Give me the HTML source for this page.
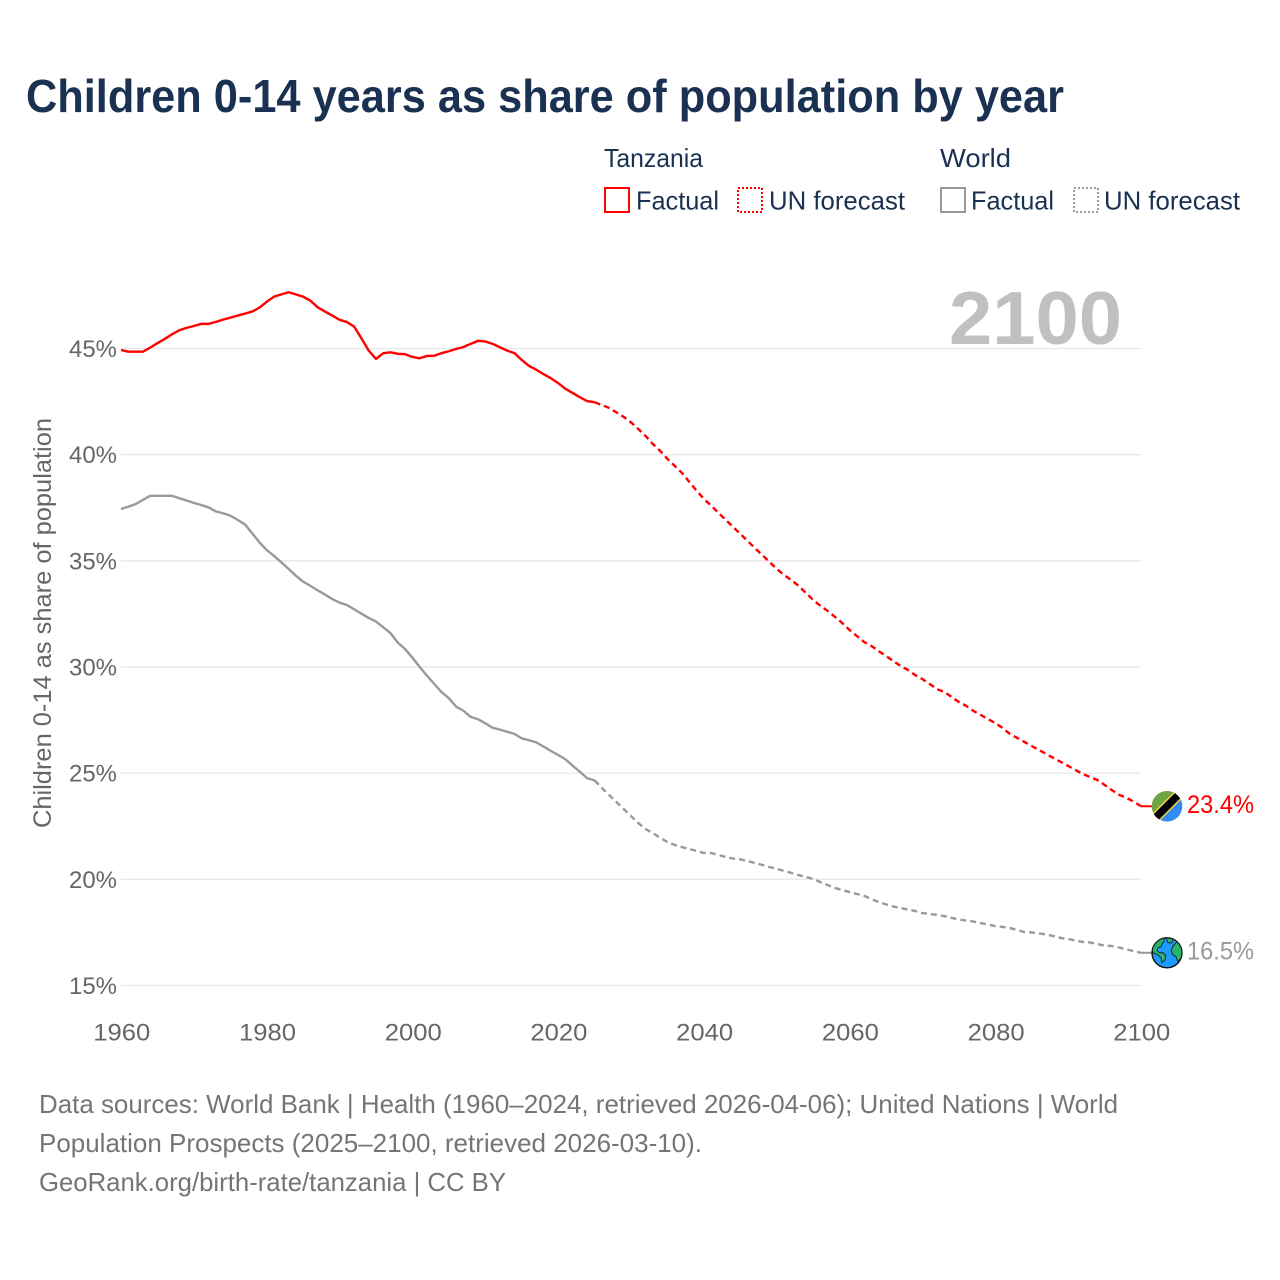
<!DOCTYPE html>
<html lang="en">
<head>
<meta charset="utf-8">
<title>Children 0-14 years as share of population by year</title>
<style>
  html, body { margin: 0; padding: 0; background: #fff; }
  svg { display: block; font-family: "Liberation Sans", sans-serif; }
</style>
</head>
<body>
<svg id="chart" xmlns="http://www.w3.org/2000/svg" width="1280" height="1280" viewBox="0 0 1280 1280">
  <rect x="0" y="0" width="1280" height="1280" fill="#fff"/>
  <text x="26" y="112" font-size="46" font-weight="700" fill="#1a3152" textLength="1038" lengthAdjust="spacingAndGlyphs">Children 0-14 years as share of population by year</text>

  <g font-size="26" fill="#1a3152">
    <text x="604" y="167" textLength="99" lengthAdjust="spacingAndGlyphs">Tanzania</text>
    <text x="940" y="167" textLength="71" lengthAdjust="spacingAndGlyphs">World</text>
    <rect x="605" y="188" width="24" height="24" fill="none" stroke="#ff0000" stroke-width="2"/>
    <text x="636" y="209.5" textLength="83" lengthAdjust="spacingAndGlyphs">Factual</text>
    <rect x="738" y="188" width="24" height="24" fill="none" stroke="#ff0000" stroke-width="2" stroke-dasharray="2 2"/>
    <text x="769" y="209.5" textLength="136" lengthAdjust="spacingAndGlyphs">UN forecast</text>
    <rect x="941" y="188" width="24" height="24" fill="none" stroke="#999999" stroke-width="2"/>
    <text x="971" y="209.5" textLength="83" lengthAdjust="spacingAndGlyphs">Factual</text>
    <rect x="1074" y="188" width="24" height="24" fill="none" stroke="#999999" stroke-width="2" stroke-dasharray="2 2"/>
    <text x="1104" y="209.5" textLength="136" lengthAdjust="spacingAndGlyphs">UN forecast</text>
  </g>

  <g id="grid"></g>
  <text x="949" y="344" font-size="75" font-weight="700" fill="#c0c0c0" textLength="173" lengthAdjust="spacingAndGlyphs">2100</text>
  <g id="yticks" font-size="24" fill="#666666"></g>
  <g id="xticks" font-size="24" fill="#666666"></g>
  <text transform="translate(51 828) rotate(-90)" font-size="25" fill="#666666" textLength="410" lengthAdjust="spacingAndGlyphs">Children 0-14 as share of population</text>

  <g id="series"></g>

  <g id="flag-tanzania">
    <clipPath id="flag-clip"><circle cx="0" cy="0" r="15.3"/></clipPath>
    <g clip-path="url(#flag-clip)" transform="rotate(-45)">
      <rect x="-20" y="-20" width="40" height="20" fill="#6da544"/>
      <rect x="-20" y="0" width="40" height="20" fill="#338af3"/>
      <rect x="-20" y="-5.2" width="40" height="10.4" fill="#ffda44"/>
      <rect x="-20" y="-3.8" width="40" height="7.6" fill="#000"/>
    </g>
  </g>
  <g id="flag-world">
    <circle cx="0" cy="0" r="15" fill="#1e9bff" stroke="#111" stroke-width="1.4"/>
    <clipPath id="globe-clip"><circle cx="0" cy="0" r="14.5"/></clipPath>
    <g clip-path="url(#globe-clip)" fill="#27b36c" stroke="#111" stroke-width="0.8">
      <path d="M-15 -5 C-12 -11 -8 -14 -3 -15 L-3 -11 L-5 -9 L-6 -6 L-9 -5 L-10 -2 L-7 0 L-4 0 L-1 3 L-2 7 L-5 10 L-6 5 L-9 2 L-14 0 Z"/>
      <path d="M-1 -15 L6 -14 L5 -10 L1 -10 Z"/>
      <path d="M6 -7 L10 -11 L15 -5 L15 4 L11 9 L9 4 L6 2 L4 -2 Z"/>
    </g>
  </g>
  <g id="endlabels" font-size="25"></g>

  <g font-size="26" fill="#757575">
    <text x="39" y="1113" textLength="1079" lengthAdjust="spacingAndGlyphs">Data sources: World Bank | Health (1960–2024, retrieved 2026-04-06); United Nations | World</text>
    <text x="39" y="1152" textLength="663" lengthAdjust="spacingAndGlyphs">Population Prospects (2025–2100, retrieved 2026-03-10).</text>
    <text x="39" y="1191" textLength="467" lengthAdjust="spacingAndGlyphs">GeoRank.org/birth-rate/tanzania | CC BY</text>
  </g>
</svg>

<script>
// ---- data ----
const factualStartYear = 1960;
const forecastStartYear = 2025;
const tanzaniaFactual = [44.93,44.85,44.85,44.85,45.04,45.25,45.45,45.67,45.86,45.97,46.06,46.16,46.16,46.25,46.36,46.45,46.55,46.64,46.74,46.92,47.2,47.44,47.55,47.65,47.55,47.44,47.25,46.94,46.74,46.55,46.35,46.25,46.03,45.48,44.9,44.51,44.78,44.82,44.75,44.73,44.6,44.54,44.65,44.66,44.78,44.87,44.98,45.07,45.22,45.36,45.33,45.22,45.06,44.9,44.78,44.46,44.18,44,43.79,43.6,43.37,43.1,42.9,42.7,42.52,42.47];
const tanzaniaForecast = [42.47,42.34,42.2,41.99,41.78,41.52,41.21,40.88,40.5,40.18,39.8,39.47,39.14,38.72,38.3,37.92,37.6,37.26,36.93,36.6,36.27,35.94,35.6,35.28,34.95,34.62,34.33,34.1,33.82,33.49,33.16,32.88,32.64,32.36,32.07,31.74,31.46,31.18,30.99,30.75,30.52,30.28,30.05,29.86,29.62,29.43,29.2,28.96,28.83,28.59,28.35,28.17,27.93,27.74,27.55,27.36,27.13,26.85,26.66,26.47,26.28,26.09,25.9,25.71,25.53,25.34,25.15,24.96,24.82,24.68,24.45,24.2,23.98,23.84,23.66,23.44];
const worldFactual = [37.44,37.55,37.67,37.87,38.06,38.06,38.06,38.06,37.95,37.84,37.73,37.63,37.52,37.33,37.24,37.13,36.93,36.72,36.3,35.87,35.51,35.23,34.93,34.62,34.3,34.02,33.82,33.61,33.41,33.2,33.03,32.92,32.72,32.51,32.31,32.14,31.87,31.59,31.15,30.84,30.44,30,29.59,29.2,28.82,28.53,28.13,27.94,27.65,27.54,27.35,27.14,27.05,26.95,26.85,26.64,26.55,26.45,26.25,26.05,25.86,25.65,25.35,25.06,24.76,24.66];
const worldForecast = [24.66,24.3,23.97,23.64,23.31,22.98,22.65,22.37,22.18,21.95,21.76,21.62,21.52,21.43,21.34,21.24,21.24,21.15,21.05,20.98,20.94,20.86,20.77,20.68,20.58,20.49,20.4,20.3,20.2,20.11,20.02,19.87,19.73,19.59,19.5,19.4,19.31,19.22,19.07,18.93,18.82,18.72,18.65,18.58,18.51,18.41,18.37,18.32,18.27,18.18,18.11,18.06,18.01,17.94,17.87,17.8,17.76,17.71,17.61,17.52,17.5,17.45,17.4,17.33,17.24,17.19,17.12,17.05,17.03,16.95,16.88,16.86,16.79,16.7,16.62,16.54];
const yTickValues = [15,20,25,30,35,40,45];
const yTickLabels = ["15%","20%","25%","30%","35%","40%","45%"];
const xTickYears = [1960,1980,2000,2020,2040,2060,2080,2100];
const xTickLabels = ["1960","1980","2000","2020","2040","2060","2080","2100"];
const endLabelTanzania = "23.4%";
const endLabelWorld = "16.5%";

// ---- axes ----
function xScale(year) { return 121 + (year - 1960) * (1020 / 140); }
function yScale(v) { return 985.5 - (v - 15) * (637 / 30); }

const NS = "http://www.w3.org/2000/svg";
const gridG = document.getElementById("grid");
const yG = document.getElementById("yticks");
const xG = document.getElementById("xticks");
const seriesG = document.getElementById("series");
const endG = document.getElementById("endlabels");

yTickValues.forEach(function (v, i) {
  const line = document.createElementNS(NS, "line");
  
  
  line.setAttribute("x1", xScale(1960));
  line.setAttribute("x2", xScale(2100));
  line.setAttribute("y1", yScale(v));
  line.setAttribute("y2", yScale(v));
  line.setAttribute("stroke", "#e8e8e8");
  line.setAttribute("stroke-width", "1.3");
  gridG.appendChild(line);

  const t = document.createElementNS(NS, "text");
  
  
  t.setAttribute("x", 117);
  t.setAttribute("y", yScale(v) + 8.5);
  t.setAttribute("text-anchor", "end");
  t.setAttribute("textLength", "48");
  t.setAttribute("lengthAdjust", "spacingAndGlyphs");
  t.textContent = yTickLabels[i];
  yG.appendChild(t);
});

xTickYears.forEach(function (yr, i) {
  const t = document.createElementNS(NS, "text");
  
  
  t.setAttribute("x", xScale(yr) + 0.8);
  t.setAttribute("y", 1040.5);
  t.setAttribute("text-anchor", "middle");
  t.setAttribute("textLength", "57");
  t.setAttribute("lengthAdjust", "spacingAndGlyphs");
  t.textContent = xTickLabels[i];
  xG.appendChild(t);
});

function pathFrom(values, startYear) {
  return values.map(function (v, i) {
    return (i ? "L" : "M") + xScale(startYear + i).toFixed(2) + " " + yScale(v).toFixed(2);
  }).join(" ");
}

function addLine(values, startYear, color, dash, name) {
  const p = document.createElementNS(NS, "path");
  
  
  p.setAttribute("d", pathFrom(values, startYear));
  p.setAttribute("fill", "none");
  p.setAttribute("stroke", color);
  p.setAttribute("stroke-width", "2.4");
  p.setAttribute("stroke-linejoin", "round");
  if (dash) p.setAttribute("stroke-dasharray", dash);
  seriesG.appendChild(p);
}

addLine(worldFactual, factualStartYear, "#999999", null, "line-world-factual");
addLine(worldForecast, forecastStartYear, "#999999", "6 4", "line-world-forecast");
addLine(tanzaniaFactual, factualStartYear, "#ff0000", null, "line-tanzania-factual");
addLine(tanzaniaForecast, forecastStartYear, "#ff0000", "6 4", "line-tanzania-forecast");

function addEnd(values, color, label, iconId, name) {
  const y = yScale(values[values.length - 1]);
  const c = document.createElementNS(NS, "line");
  
  
  c.setAttribute("x1", xScale(2100));
  c.setAttribute("x2", 1152);
  c.setAttribute("y1", y);
  c.setAttribute("y2", y);
  c.setAttribute("stroke", color);
  c.setAttribute("stroke-width", "2");
  seriesG.appendChild(c);

  document.getElementById(iconId).setAttribute("transform", "translate(1167 " + y.toFixed(2) + ")");

  const t = document.createElementNS(NS, "text");
  
  
  t.setAttribute("x", 1187);
  t.setAttribute("y", y + 6.5);
  t.setAttribute("fill", color);
  t.setAttribute("textLength", "67");
  t.setAttribute("lengthAdjust", "spacingAndGlyphs");
  t.textContent = label;
  endG.appendChild(t);
}

addEnd(tanzaniaForecast, "#ff0000", endLabelTanzania, "flag-tanzania", "tanzania");
addEnd(worldForecast, "#999999", endLabelWorld, "flag-world", "world");
</script>
</body>
</html>
